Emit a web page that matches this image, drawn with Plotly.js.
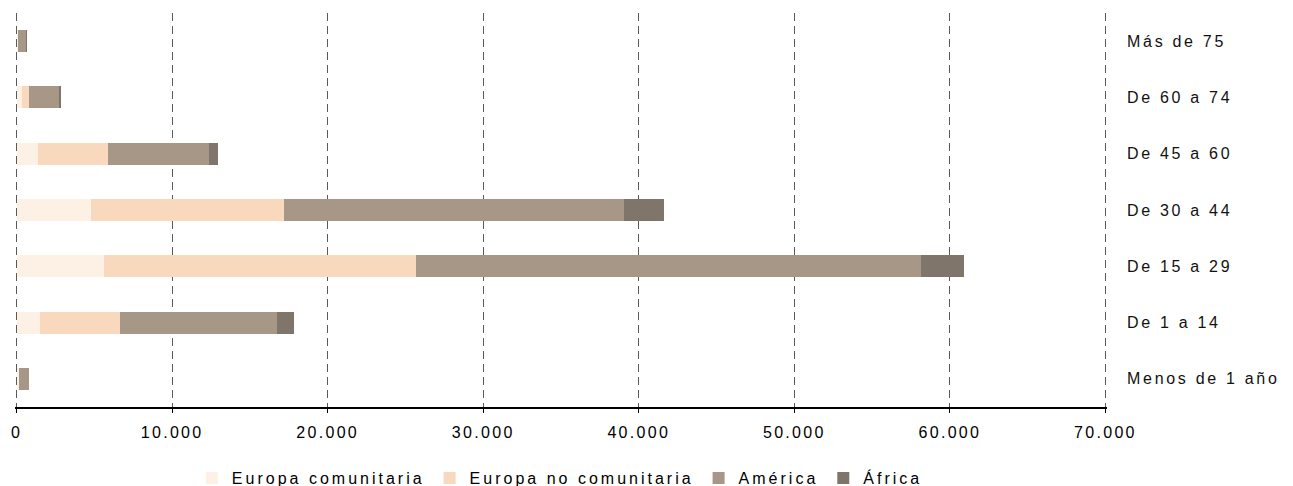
<!DOCTYPE html>
<html>
<head>
<meta charset="utf-8">
<script src="https://cdn.plot.ly/plotly-3.0.1.min.js"></script>
<style>
html,body{margin:0;padding:0;background:#fff;}
#chart{width:1293px;height:486px;}
.xtick text{letter-spacing:2.3px;}
.ytick text{letter-spacing:2.7px;}
text.legendtext{letter-spacing:3px;}
</style>
</head>
<body>
<div id="chart"></div>
<script>
const categories = ["Menos de 1 año", "De 1 a 14", "De 15 a 29", "De 30 a 44", "De 45 a 60", "De 60 a 74", "Más de 75"];
const europaComunitaria = [150, 1510, 5620, 4780, 1380, 350, 100];
const europaNoComunitaria = [30, 5140, 20040, 12400, 4500, 450, 10];
const america = [620, 10080, 32500, 21840, 6480, 1930, 510];
const africa = [20, 1090, 2760, 2570, 580, 130, 20];
const seriesNames = ["Europa comunitaria", "Europa no comunitaria", "América", "África"];
const seriesColors = ["#FCF1E4", "#F8D9BD", "#A69786", "#7F756B"];
const xTicks = [0, 10000, 20000, 30000, 40000, 50000, 60000, 70000];

const seriesData = [europaComunitaria, europaNoComunitaria, america, africa];
const traces = seriesData.map((vals, i) => ({
  type: "bar",
  orientation: "h",
  name: seriesNames[i],
  y: categories,
  x: vals,
  marker: {color: seriesColors[i], line: {width: 0}},
  hoverinfo: "x+y+name"
}));

const layout = {
  width: 1293,
  height: 486,
  barmode: "stack",
  bargap: 0.61,
  separators: ",.",
  paper_bgcolor: "#ffffff",
  plot_bgcolor: "#ffffff",
  font: {family: "Arial, 'Liberation Sans', sans-serif", size: 16, color: "#000"},
  margin: {l: 15, r: 186, t: 13, b: 79},
  xaxis: {
    range: [-100, 70100],
    tickvals: xTicks,
    tickformat: ",d",
    showgrid: true,
    gridcolor: "#5a5a5a",
    griddash: "8px,5px",
    gridwidth: 1,
    zeroline: false,
    showline: true,
    linecolor: "#000",
    linewidth: 1.5,
    ticks: "outside",
    ticklen: 4,
    tickcolor: "#000",
    tickwidth: 1,
    ticklabelstandoff: 6,
    tickfont: {size: 16, color: "#000"},
    fixedrange: true
  },
  yaxis: {
    side: "right",
    categoryorder: "array",
    categoryarray: categories,
    showgrid: false,
    zeroline: false,
    showline: false,
    ticks: "",
    ticklabelstandoff: 19,
    tickfont: {size: 16, color: "#111"},
    fixedrange: true
  },
  legend: {
    orientation: "h",
    x: 0.433,
    xref: "container",
    xanchor: "center",
    y: 0.0165,
    yref: "container",
    yanchor: "middle",
    font: {size: 16, color: "#000"},
    itemwidth: 30,
    traceorder: "normal"
  },
  showlegend: true
};

Plotly.newPlot("chart", traces, layout, {displayModeBar: false, staticPlot: true});
</script>
</body>
</html>
